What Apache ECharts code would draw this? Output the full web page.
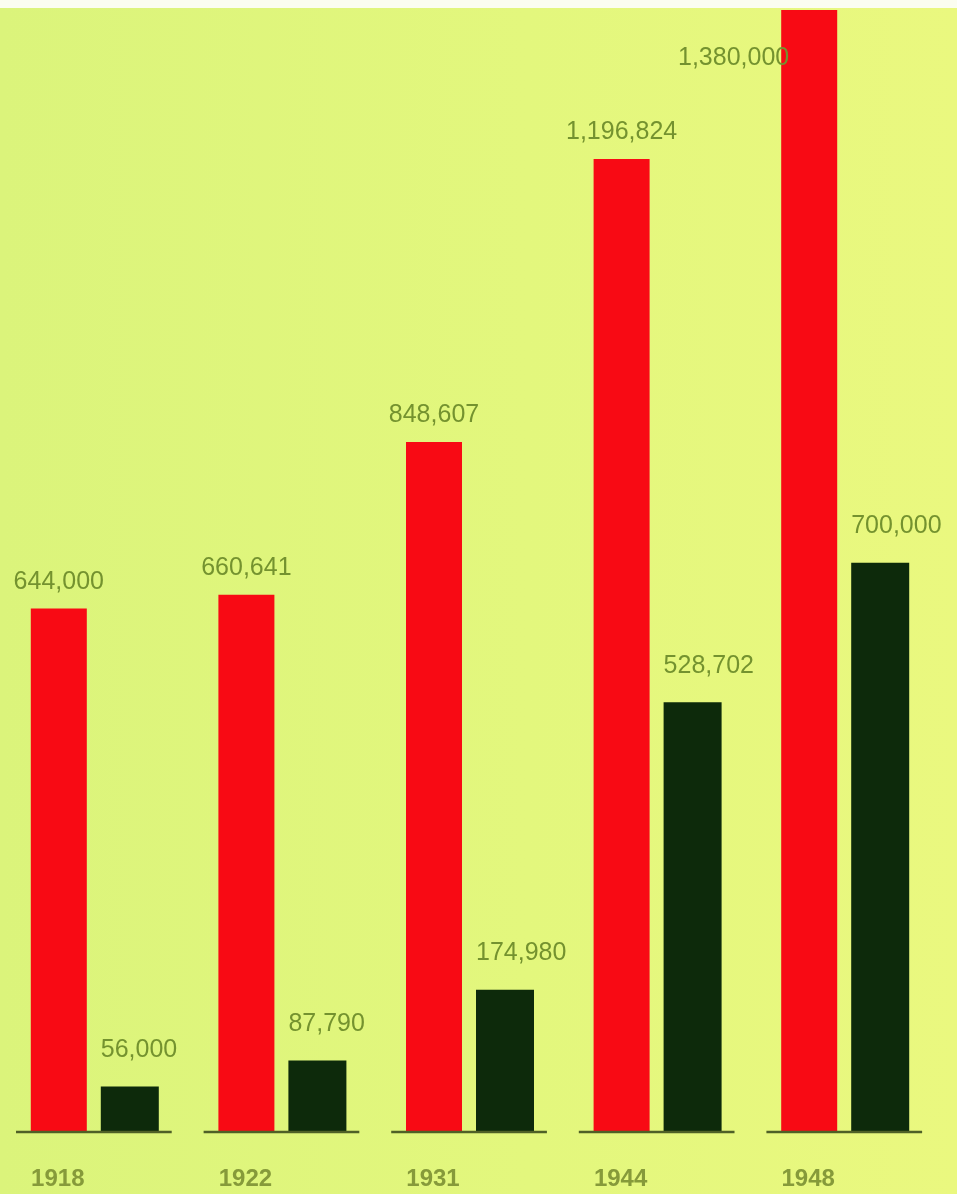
<!DOCTYPE html>
<html>
<head>
<meta charset="utf-8">
<script src="https://cdn.jsdelivr.net/npm/echarts@6/dist/echarts.min.js"></script>
<style>
  html, body { margin: 0; padding: 0; background: #fbfdf0; }
  #chart {
    position: absolute; left: 0; top: 8px;
    width: 957px; height: 1186px;
    background: linear-gradient(90deg, #dbf47b 0%, #e3f77d 55%, #eaf87f 100%);
  }
</style>
</head>
<body>
<div id="chart"></div>
<script>
// 数据
const years = ['1918', '1922', '1931', '1944', '1948'];
const redValues = [644000, 660641, 848607, 1196824, 1380000];
const darkValues = [56000, 87790, 174980, 528702, 700000];

const labelColor = '#74922f';
const fmt = v => v.toLocaleString('en-US');

const chart = echarts.init(document.getElementById('chart'));

const option = {
  backgroundColor: 'transparent',
  animation: false,
  grid: { left: 1, right: 18, top: 2, bottom: 62 },
  xAxis: {
    type: 'category',
    data: years,
    axisLine: { show: false },
    axisTick: { show: false },
    axisLabel: {
      color: '#869a3a',
      fontFamily: 'Liberation Sans, Arial, sans-serif',
      fontSize: 24,
      fontWeight: 'bold',
      margin: 35,
      padding: [0, 74, 0, 0] // 居中到红色柱下方
    }
  },
  yAxis: {
    type: 'value',
    min: 0,
    max: 1380000,
    show: false,
    splitLine: { show: false }
  },
  series: [
    {
      type: 'bar',
      data: redValues.map((v, i) => {
        if (i === redValues.length - 1) {
          // 最高的柱子标签放在左侧
          return {
            value: v,
            label: { position: [8, 48], align: 'right', verticalAlign: 'middle' }
          };
        }
        return v;
      }),
      barWidth: 56,
      barGap: '25%',
      barCategoryGap: '32%',
      itemStyle: { color: '#f80a14' },
      label: {
        show: true,
        position: 'top',
        distance: 14,
        color: labelColor,
        fontFamily: 'Liberation Sans, Arial, sans-serif',
        fontSize: 25,
        formatter: p => fmt(p.value)
      }
    },
    {
      type: 'bar',
      data: darkValues,
      barWidth: 58,
      itemStyle: { color: '#0d2a0b' },
      label: {
        show: true,
        position: 'top',
        distance: 24,
        align: 'left',
        offset: [-29, 0],
        color: labelColor,
        fontFamily: 'Liberation Sans, Arial, sans-serif',
        fontSize: 25,
        formatter: p => fmt(p.value)
      }
    },
    {
      // 每组柱子下的底线
      type: 'custom',
      silent: true,
      z: 5,
      data: years.map((y, i) => [i, 0]),
      renderItem: (params, api) => {
        const p = api.coord([api.value(0), 0]);
        const band = api.size([1, 0])[0];
        return {
          type: 'line',
          shape: { x1: p[0] - band * 0.42, y1: p[1], x2: p[0] + band * 0.41, y2: p[1] },
          style: { stroke: '#4f6027', lineWidth: 2.5 }
        };
      }
    }
  ]
};

chart.setOption(option);
</script>
</body>
</html>
